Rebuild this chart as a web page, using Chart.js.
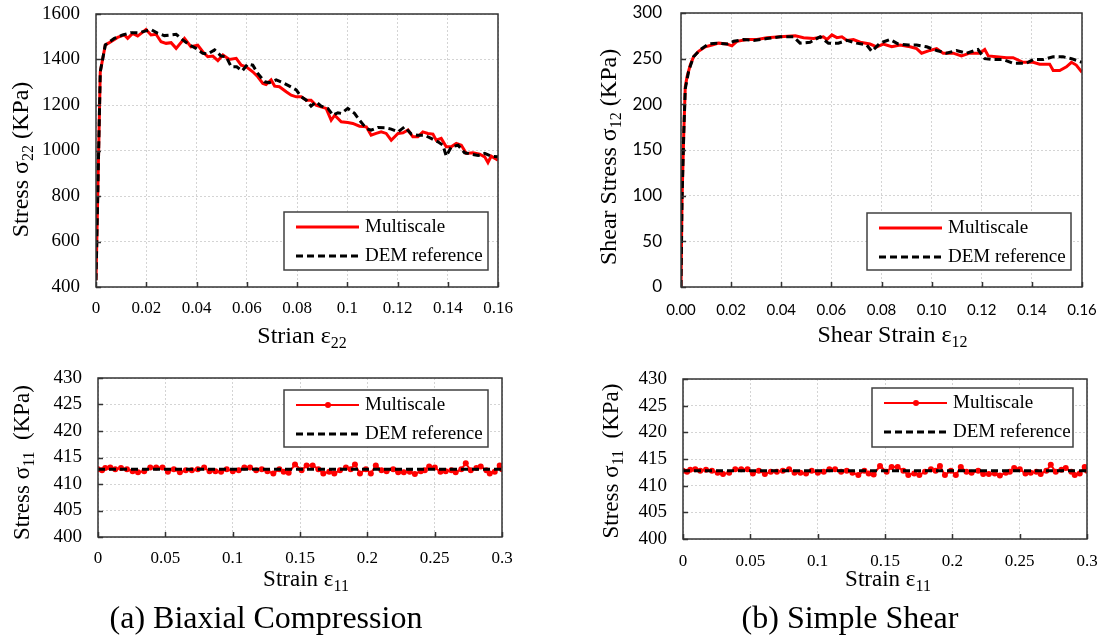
<!DOCTYPE html>
<html>
<head>
<meta charset="utf-8">
<script src="https://cdn.jsdelivr.net/npm/chart.js@4.4.1/dist/chart.umd.min.js"></script>
<style>
	body { margin: 0; background: #fff; width: 1103px; height: 635px; position: relative; overflow: hidden; }
	canvas { position: absolute; }
	.caption { position: absolute; font-family: 'Liberation Serif', 'Times New Roman', serif; font-size: 32px; color: #000; white-space: nowrap; transform: translate(-50%, -50%); }
</style>
</head>
<body>
<canvas id="chartA" width="530" height="370" style="left:0;top:0"></canvas>
<canvas id="chartB" width="543" height="370" style="left:560px;top:0"></canvas>
<canvas id="chartC" width="530" height="275" style="left:0;top:360px"></canvas>
<canvas id="chartD" width="543" height="275" style="left:560px;top:360px"></canvas>
<div class="caption" style="left:266px;top:617px">(a) Biaxial Compression</div>
<div class="caption" style="left:850px;top:617px">(b) Simple Shear</div>
<script>
const SERIF = "'Liberation Serif', 'Times New Roman', serif";
const SANS = "Lato, 'Liberation Sans', sans-serif";

// Biaxial compression, axial stress (KPa) vs axial strain
const biaxMsStrain = [0, 0.0017, 0.0037, 0.0053, 0.0086, 0.0113, 0.0126, 0.0146, 0.0166, 0.0199, 0.0219, 0.0239, 0.0259, 0.0279, 0.0299, 0.0319, 0.0352, 0.0378, 0.0405, 0.0425, 0.0445, 0.0465, 0.0485, 0.0505, 0.0531, 0.0558, 0.0578, 0.0598, 0.0624, 0.0644, 0.0664, 0.0677, 0.0697, 0.0711, 0.0730, 0.0757, 0.0777, 0.0797, 0.0817, 0.0837, 0.0856, 0.0876, 0.0896, 0.0916, 0.0936, 0.0950, 0.0976, 0.1002, 0.1022, 0.1049, 0.1076, 0.1095, 0.1115, 0.1135, 0.1155, 0.1175, 0.1202, 0.1222, 0.1242, 0.1261, 0.1281, 0.1301, 0.1321, 0.1341, 0.1354, 0.1374, 0.1394, 0.1414, 0.1434, 0.1454, 0.1474, 0.1500, 0.1527, 0.1547, 0.1560, 0.1573, 0.1600];
const biaxMsStress = [430, 1346, 1464, 1474, 1497, 1508, 1493, 1515, 1503, 1532, 1508, 1511, 1478, 1471, 1474, 1449, 1493, 1456, 1463, 1434, 1412, 1415, 1395, 1420, 1400, 1405, 1375, 1368, 1346, 1324, 1295, 1290, 1310, 1283, 1280, 1258, 1243, 1236, 1236, 1221, 1221, 1199, 1192, 1185, 1133, 1155, 1126, 1123, 1119, 1107, 1104, 1067, 1075, 1082, 1075, 1045, 1075, 1078, 1090, 1060, 1060, 1082, 1075, 1072, 1045, 1053, 1016, 1016, 1031, 1023, 987, 990, 984, 972, 947, 975, 957];
const biaxDemStrain = [0, 0.0017, 0.0037, 0.0073, 0.0106, 0.0139, 0.0173, 0.0199, 0.0219, 0.0246, 0.0272, 0.0299, 0.0319, 0.0345, 0.0372, 0.0398, 0.0425, 0.0445, 0.0472, 0.0498, 0.0518, 0.0538, 0.0560, 0.0582, 0.0604, 0.0624, 0.0644, 0.0671, 0.0690, 0.0717, 0.0744, 0.0770, 0.0797, 0.0817, 0.0837, 0.0856, 0.0876, 0.0896, 0.0923, 0.0943, 0.0963, 0.0976, 0.1002, 0.1029, 0.1049, 0.1076, 0.1095, 0.1122, 0.1149, 0.1175, 0.1202, 0.1228, 0.1255, 0.1281, 0.1308, 0.1334, 0.1361, 0.1381, 0.1394, 0.1414, 0.1441, 0.1467, 0.1494, 0.1521, 0.1547, 0.1573, 0.1600];
const biaxDemStress = [430, 1346, 1464, 1493, 1508, 1518, 1518, 1526, 1532, 1515, 1505, 1508, 1511, 1486, 1464, 1449, 1427, 1424, 1442, 1415, 1412, 1368, 1368, 1350, 1380, 1375, 1339, 1302, 1298, 1310, 1298, 1283, 1266, 1236, 1221, 1195, 1214, 1195, 1185, 1155, 1166, 1163, 1185, 1163, 1133, 1097, 1089, 1101, 1100, 1094, 1082, 1104, 1072, 1067, 1067, 1053, 1038, 1023, 975, 1016, 1023, 990, 984, 978, 987, 975, 972];

// Simple shear, shear stress (KPa) vs shear strain
const shearMsStrain = [0, 0.0004, 0.0011, 0.0017, 0.0024, 0.0037, 0.0050, 0.0070, 0.0097, 0.0124, 0.0150, 0.0183, 0.0203, 0.0223, 0.0263, 0.0303, 0.0343, 0.0396, 0.0456, 0.0489, 0.0529, 0.0568, 0.0582, 0.0602, 0.0622, 0.0642, 0.0662, 0.0688, 0.0715, 0.0754, 0.0781, 0.0807, 0.0841, 0.0874, 0.0914, 0.0940, 0.0960, 0.0993, 0.1020, 0.1046, 0.1086, 0.1119, 0.1152, 0.1192, 0.1212, 0.1226, 0.1259, 0.1299, 0.1325, 0.1365, 0.1405, 0.1431, 0.1471, 0.1485, 0.1511, 0.1538, 0.1558, 0.1577, 0.1600];
const shearMsStress = [0, 95, 168, 219, 230, 243, 252, 258, 263, 265, 267, 266, 264, 269, 271, 271, 273, 274, 275, 273, 272, 274, 271, 276, 273, 274, 270, 271, 268, 266, 263, 266, 263, 265, 263, 261, 256, 259, 261, 256, 256, 253, 256, 256, 260, 253, 252, 251, 251, 246, 246, 244, 244, 237, 237, 241, 246, 243, 235];
const shearDemStrain = [0, 0.0004, 0.0011, 0.0017, 0.0031, 0.0050, 0.0077, 0.0110, 0.0143, 0.0183, 0.0210, 0.0250, 0.0290, 0.0343, 0.0396, 0.0449, 0.0475, 0.0515, 0.0555, 0.0588, 0.0628, 0.0662, 0.0701, 0.0741, 0.0761, 0.0794, 0.0834, 0.0867, 0.0907, 0.0940, 0.0980, 0.1020, 0.1059, 0.1099, 0.1139, 0.1185, 0.1212, 0.1245, 0.1285, 0.1325, 0.1378, 0.1405, 0.1445, 0.1485, 0.1524, 0.1558, 0.1600];
const shearDemStress = [0, 95, 168, 217, 237, 252, 260, 266, 267, 266, 269, 271, 270, 272, 274, 274, 267, 268, 274, 267, 267, 270, 267, 265, 258, 267, 271, 266, 265, 265, 263, 259, 256, 259, 256, 260, 250, 249, 249, 245, 245, 249, 249, 252, 252, 250, 246];

// Lateral stress sigma11 (KPa) vs strain eps11, same curves in both tests
const latMsStrain = [0, 0.0030, 0.0054, 0.0091, 0.0128, 0.0171, 0.0215, 0.0257, 0.0297, 0.0343, 0.0388, 0.0432, 0.0479, 0.0519, 0.0563, 0.0608, 0.0652, 0.0697, 0.0741, 0.0788, 0.0828, 0.0872, 0.0914, 0.0956, 0.1001, 0.1045, 0.1087, 0.1129, 0.1174, 0.1216, 0.1258, 0.1302, 0.1347, 0.1379, 0.1416, 0.1463, 0.1512, 0.1549, 0.1594, 0.1636, 0.1673, 0.1717, 0.1755, 0.1797, 0.1841, 0.1876, 0.1908, 0.1945, 0.1989, 0.2026, 0.2063, 0.2105, 0.2143, 0.2192, 0.2229, 0.2271, 0.2315, 0.2353, 0.2397, 0.2427, 0.2459, 0.2501, 0.2543, 0.2582, 0.2624, 0.2656, 0.2698, 0.2731, 0.2768, 0.2810, 0.2842, 0.2884, 0.2909, 0.2946, 0.2983, 0.3000];
const latMsStress = [412.8, 412.6, 413.0, 413.1, 412.8, 413.0, 412.8, 412.4, 412.2, 412.4, 413.1, 413.1, 413.1, 412.3, 412.8, 412.2, 412.6, 412.6, 412.8, 413.1, 412.4, 412.4, 412.3, 412.8, 412.4, 412.6, 413.1, 413.1, 412.6, 412.8, 412.4, 412.0, 412.8, 412.3, 412.1, 413.7, 412.6, 413.5, 413.5, 412.8, 412.0, 412.3, 412.0, 412.6, 413.1, 412.8, 413.7, 412.0, 412.8, 412.0, 413.5, 412.6, 412.4, 412.8, 412.2, 412.2, 412.3, 411.9, 412.4, 412.6, 413.3, 413.1, 412.3, 412.4, 412.6, 412.2, 412.8, 413.9, 412.6, 413.0, 413.3, 412.6, 412.0, 412.3, 413.5, 412.8];
const latDemStrain = [0, 0.3];
const latDemStress = [412.8, 412.8];

// Axis ranges [min, max, step]
const biaxXRange = [0, 0.16, 0.02];
const biaxYRange = [400, 1600, 200];
const shearXRange = [0, 0.16, 0.02];
const shearYRange = [0, 300, 50];
const latXRange = [0, 0.3, 0.05];
const latYRange = [400, 430, 5];

function points(xs, ys) {
	return xs.map((x, i) => ({ x: x, y: ys[i] }));
}

// draws a title made of [text, isSubscript] parts, centred on (cx, cy)
function drawRich(ctx, parts, size, cx, cy, rotate) {
	const fontFor = sub => (sub ? Math.round(size * 0.68) : size) + 'px ' + SERIF;
	let total = 0;
	const widths = parts.map(p => {
		ctx.font = fontFor(p[1]);
		const w = ctx.measureText(p[0]).width;
		total += w;
		return w;
	});
	ctx.save();
	ctx.translate(cx, cy);
	if (rotate) ctx.rotate(-Math.PI / 2);
	ctx.fillStyle = '#000';
	ctx.textBaseline = 'middle';
	ctx.textAlign = 'left';
	let x = -total / 2;
	parts.forEach((p, i) => {
		ctx.font = fontFor(p[1]);
		ctx.fillText(p[0], x, p[1] ? size * 0.3 : 0);
		x += widths[i];
	});
	ctx.restore();
}

// Frame, inner ticks, boxed legend and axis titles
const figurePlugin = {
	id: 'figure',
	afterDatasetsDraw(chart, args, opts) {
		const ctx = chart.ctx;
		const a = chart.chartArea;
		const xs = chart.scales.x;
		const ys = chart.scales.y;
		ctx.save();
		ctx.strokeStyle = '#333';
		ctx.lineWidth = 1.5;
		ctx.beginPath();
		ys.ticks.forEach(t => {
			const py = Math.round(ys.getPixelForValue(t.value)) + 0.5;
			ctx.moveTo(a.left, py);
			ctx.lineTo(a.left + 5, py);
		});
		xs.ticks.forEach(t => {
			const px = Math.round(xs.getPixelForValue(t.value)) + 0.5;
			ctx.moveTo(px, a.bottom);
			ctx.lineTo(px, a.bottom - 5);
		});
		ctx.stroke();
		ctx.strokeRect(a.left, a.top, a.right - a.left, a.bottom - a.top);

		// legend box
		const L = opts.legend;
		const bx = a.right - L.right - L.width;
		const by = L.top !== undefined ? a.top + L.top : a.bottom - L.bottom - L.height;
		ctx.fillStyle = '#fff';
		ctx.fillRect(bx, by, L.width, L.height);
		ctx.strokeStyle = '#404040';
		ctx.lineWidth = 1.5;
		ctx.strokeRect(bx, by, L.width, L.height);
		chart.data.datasets.forEach((ds, i) => {
			const y = by + 15 + i * 29;
			ctx.save();
			ctx.strokeStyle = ds.borderColor;
			ctx.lineWidth = ds.borderWidth;
			ctx.setLineDash(ds.borderDash || []);
			ctx.beginPath();
			ctx.moveTo(bx + 12, y);
			ctx.lineTo(bx + 75, y);
			ctx.stroke();
			ctx.restore();
			if (ds.pointRadius > 0) {
				ctx.fillStyle = ds.borderColor;
				ctx.beginPath();
				ctx.arc(bx + 44, y, ds.pointRadius, 0, Math.PI * 2);
				ctx.fill();
			}
			ctx.fillStyle = '#000';
			ctx.font = '19px ' + SERIF;
			ctx.textBaseline = 'middle';
			ctx.textAlign = 'left';
			ctx.fillText(ds.label, bx + 81, y);
		});
		ctx.restore();
	},
	afterDraw(chart, args, opts) {
		const ctx = chart.ctx;
		const a = chart.chartArea;
		const xt = opts.xTitle;
		const yt = opts.yTitle;
		drawRich(ctx, xt.parts, xt.size, (a.left + a.right) / 2 + xt.dx, a.bottom + xt.dy, false);
		drawRich(ctx, yt.parts, yt.size, a.left - yt.dx, (a.top + a.bottom) / 2 + yt.dy, true);
	}
};

function makeConfig(c) {
	return {
		type: 'line',
		data: { datasets: c.datasets },
		plugins: [figurePlugin],
		options: {
			responsive: false,
			animation: false,
			events: [],
			layout: { padding: c.padding },
			plugins: {
				legend: { display: false },
				tooltip: { enabled: false },
				figure: c.figure
			},
			scales: {
				x: {
					type: 'linear',
					min: c.xRange[0],
					max: c.xRange[1],
					// fixed axis size; the layout padding alone places the plot
					afterFit: s => {
						s.height = c.xHeight;
						s.paddingLeft = 0;
						s.paddingRight = 0;
					},
					grid: { color: '#d4d4d4', lineWidth: 1, drawTicks: false },
					border: { display: false, dash: [2, 2] },
					ticks: {
						stepSize: c.xRange[2],
						padding: c.xPad,
						color: '#000',
						maxRotation: 0,
						autoSkip: false,
						font: c.xFont,
						callback: c.xFormat
					}
				},
				y: {
					type: 'linear',
					min: c.yRange[0],
					max: c.yRange[1],
					afterFit: s => {
						s.width = c.yWidth;
						s.paddingTop = 0;
						s.paddingBottom = 0;
					},
					grid: { color: '#d4d4d4', lineWidth: 1, drawTicks: false },
					border: { display: false, dash: [2, 2] },
					ticks: {
						stepSize: c.yRange[2],
						padding: c.yPad,
						color: '#000',
						autoSkip: false,
						font: c.yFont,
						callback: v => String(v)
					}
				}
			}
		}
	};
}

const plainFormat = v => String(+v.toFixed(3));

function mainSeries(msX, msY, demX, demY) {
	return [
		{
			label: 'Multiscale',
			data: points(msX, msY),
			borderColor: '#ff0000',
			borderWidth: 3,
			pointRadius: 0,
			tension: 0,
			order: 1
		},
		{
			label: 'DEM reference',
			data: points(demX, demY),
			borderColor: '#000000',
			borderWidth: 3,
			borderDash: [7, 4],
			pointRadius: 0,
			tension: 0,
			order: 0
		}
	];
}

function lateralSeries() {
	return [
		{
			label: 'Multiscale',
			data: points(latMsStrain, latMsStress),
			borderColor: '#ff0000',
			backgroundColor: '#ff0000',
			borderWidth: 2,
			pointRadius: 3,
			pointBackgroundColor: '#ff0000',
			pointBorderWidth: 0,
			tension: 0,
			order: 1
		},
		{
			label: 'DEM reference',
			data: points(latDemStrain, latDemStress),
			borderColor: '#000000',
			borderWidth: 3,
			borderDash: [7, 4],
			pointRadius: 0,
			tension: 0,
			order: 0
		}
	];
}

/******************** Chart A: biaxial sigma22 ********************/
new Chart(document.getElementById('chartA'), makeConfig({
	datasets: mainSeries(biaxMsStrain, biaxMsStress, biaxDemStrain, biaxDemStress),
	padding: { top: 14, right: 32, bottom: 0, left: 0 },
	xRange: biaxXRange, yRange: biaxYRange,
	xHeight: 83, yWidth: 96, xPad: 11, yPad: 16,
	xFont: { family: SERIF, size: 17 }, yFont: { family: SERIF, size: 19 },
	xFormat: plainFormat,
	figure: {
		legend: { right: 10, bottom: 17, width: 204, height: 58 },
		xTitle: { parts: [['Strian ε', false], ['22', true]], size: 24, dx: 5, dy: 50 },
		yTitle: { parts: [['Stress σ', false], ['22', true], [' (KPa)', false]], size: 24, dx: 74, dy: 9 }
	}
}));

/******************** Chart B: shear sigma12 ********************/
new Chart(document.getElementById('chartB'), makeConfig({
	datasets: mainSeries(shearMsStrain, shearMsStress, shearDemStrain, shearDemStress),
	padding: { top: 13, right: 21, bottom: 0, left: 0 },
	xRange: shearXRange, yRange: shearYRange,
	xHeight: 83, yWidth: 121, xPad: 14, yPad: 19,
	xFont: { family: SANS, size: 15 }, yFont: { family: SANS, size: 17 },
	xFormat: v => v.toFixed(2),
	figure: {
		legend: { right: 11, bottom: 17, width: 204, height: 57 },
		xTitle: { parts: [['Shear Strain ε', false], ['12', true]], size: 24, dx: 11, dy: 49 },
		yTitle: { parts: [['Shear Stress σ', false], ['12', true], [' (KPa)', false]], size: 24, dx: 71, dy: 7 }
	}
}));

/******************** Chart C: biaxial sigma11 ********************/
new Chart(document.getElementById('chartC'), makeConfig({
	datasets: lateralSeries(),
	padding: { top: 18, right: 28, bottom: 0, left: 0 },
	xRange: latXRange, yRange: latYRange,
	xHeight: 98, yWidth: 98, xPad: 11, yPad: 16,
	xFont: { family: SERIF, size: 17 }, yFont: { family: SERIF, size: 19 },
	xFormat: plainFormat,
	figure: {
		legend: { right: 14, top: 12, width: 204, height: 57 },
		xTitle: { parts: [['Strain ε', false], ['11', true]], size: 23, dx: 6, dy: 43 },
		yTitle: { parts: [['Stress σ', false], ['11', true], ['  (KPa)', false]], size: 23, dx: 75, dy: 5 }
	}
}));

/******************** Chart D: shear sigma11 ********************/
new Chart(document.getElementById('chartD'), makeConfig({
	datasets: lateralSeries(),
	padding: { top: 19, right: 16, bottom: 0, left: 0 },
	xRange: latXRange, yRange: latYRange,
	xHeight: 96, yWidth: 123, xPad: 12, yPad: 16,
	xFont: { family: SERIF, size: 17 }, yFont: { family: SERIF, size: 19 },
	xFormat: plainFormat,
	figure: {
		legend: { right: 14, top: 9, width: 201, height: 59 },
		xTitle: { parts: [['Strain ε', false], ['11', true]], size: 23, dx: 3, dy: 41 },
		yTitle: { parts: [['Stress σ', false], ['11', true], ['  (KPa)', false]], size: 23, dx: 71, dy: 2 }
	}
}));
</script>
</body>
</html>
